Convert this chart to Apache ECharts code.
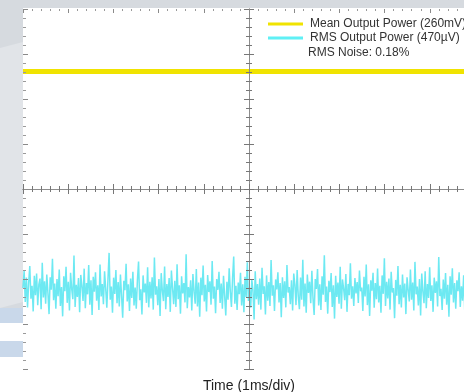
<!DOCTYPE html>
<html>
<head>
<meta charset="utf-8">
<script src="https://cdn.jsdelivr.net/npm/echarts@6/dist/echarts.min.js"></script>
<style>html,body{margin:0;padding:0;background:#fff}#c{width:464px;height:392px}</style>
</head>
<body>
<div id="c"></div>
<script>
// Data (in screen divisions: x 0..10 = 1 ms/div, y -4..4)
const legendNames = ['Mean Output Power (260mV)', 'RMS Output Power (470\u00b5V)'];
const noteText = 'RMS Noise: 0.18%';
const xLabel = 'Time (1ms/div)';
const meanTrace = [2.61, 2.61, 2.61, 2.61, 2.61, 2.61, 2.61, 2.61, 2.61, 2.61, 2.61];
const rmsTrace = [
-2.20,-1.82,-2.51,-1.97,-2.63,-2.08,-1.71,-2.44,-2.15,-2.72,
-1.93,-2.36,-1.88,-2.58,-2.12,-1.99,-2.67,-1.64,-2.41,-2.05,
-2.55,-1.90,-2.31,-2.78,-1.96,-2.24,-1.55,-2.47,-2.10,-2.66,
-2.00,-2.38,-1.79,-2.60,-2.18,-2.83,-1.94,-2.27,-1.73,-2.53,
-2.06,-2.70,-1.86,-2.22,-2.45,-1.48,-2.62,-2.13,-2.40,-1.98,
-2.74,-1.91,-2.16,-2.49,-1.77,-2.65,-2.09,-2.34,-1.69,-2.57,
-2.03,-2.80,-1.95,-2.28,-1.85,-2.48,-2.14,-2.69,-1.68,-2.39,
-2.11,-2.56,-1.83,-2.21,-2.64,-2.01,-1.42,-2.46,-2.17,-2.75,
-1.97,-2.33,-1.80,-2.54,-2.07,-2.61,-1.90,-2.37,-2.86,-2.04,
-2.25,-1.66,-2.50,-2.12,-2.71,-1.99,-2.42,-1.84,-2.59,-2.19,
-2.66,-2.02,-1.61,-2.47,-2.23,-2.79,-1.92,-2.30,-2.10,-2.53,
-1.74,-2.63,-2.06,-2.43,-1.96,-2.68,-1.52,-2.35,-2.16,-2.58,
-2.00,-2.82,-1.87,-2.26,-2.49,-1.72,-2.67,-2.11,-2.40,-1.98,
-2.73,-1.81,-2.20,-2.56,-2.04,-2.62,-1.67,-2.45,-2.14,-2.77,
-1.94,-2.32,-2.09,-2.52,-1.45,-2.65,-2.18,-2.41,-2.03,-2.70,
-1.89,-2.27,-2.55,-1.78,-2.61,-2.08,-2.84,-1.97,-2.36,-1.70,
-2.50,-2.13,-2.72,-1.91,-2.29,-2.05,-2.57,-1.60,-2.44,-2.17,
-2.76,-2.00,-2.24,-1.84,-2.53,-2.10,-2.66,-1.93,-2.38,-2.81,
-2.06,-2.46,-1.76,-2.28,-2.62,-1.98,-1.50,-2.55,-2.15,-2.69,
-2.08,-2.34,-1.86,-2.59,-2.12,-2.74,-1.95,-2.40,-1.63,-2.49,
-2.19,-2.64,-2.02,-2.25,-2.90,-1.83,-2.45,-2.11,-2.57,-1.99,
-2.68,-1.75,-2.33,-2.16,-2.79,-1.92,-2.48,-2.07,-2.60,-1.58,
-2.37,-2.14,-2.71,-2.01,-2.23,-1.85,-2.52,-2.09,-2.85,-1.96,
-2.42,-2.05,-2.63,-1.69,-2.30,-2.18,-2.56,-2.03,-2.70,-1.88,
-2.13,-2.58,-1.80,-2.39,-2.67,-1.97,-2.46,-1.57,-2.61,-2.10,
-2.75,-1.90,-2.31,-2.06,-2.54,-1.82,-2.43,-2.80,-2.00,-2.22,
-1.78,-2.59,-2.12,-2.69,-1.94,-2.35,-1.47,-2.51,-2.17,-2.77,
-2.04,-2.29,-1.87,-2.62,-2.14,-2.88,-1.93,-2.40,-2.08,-2.55,
-1.73,-2.66,-2.01,-2.21,-2.47,-1.89,-2.73,-2.11,-2.36,-1.65,
-2.44,-2.16,-2.60,-1.98,-2.32,-2.07,-2.53,-1.81,-2.27,-2.19,
-2.71,-1.95,-2.39,-1.68,-2.58,-2.12,-2.82,-2.03,-2.26,-1.86,
-2.64,-2.09,-2.45,-1.77,-2.52,-2.15,-2.75,-1.92,-2.33,-1.54,
-2.60,-2.06,-2.43,-1.99,-2.68,-1.84,-2.30,-2.20,-2.87,-2.02,
-2.37,-1.71,-2.56,-2.13,-2.63,-1.90,-2.41,-2.10,-2.78,-1.96,
-2.24,-2.50,-1.79,-2.46,-2.08,-2.70,-1.62,-2.34,-2.17,-2.59,
-2.00,-2.81,-1.88,-2.28,-2.54,-1.83,-2.65,-2.11,-2.42,-1.74,
-2.49,-2.14,-2.73,-1.97,-2.31,-2.05,-2.61,-1.51,-2.38,-2.22,
-2.69,-2.01,-2.44,-1.87,-2.57,-2.13,-2.84,-1.94,-2.35,-1.76,
-2.52,-2.09,-2.66,-2.03,-2.27,-1.85,-2.62,-2.16,-2.48,-1.92,
-2.76,-2.07,-2.39,-1.70,-2.55,-2.18,-2.67,-1.99,-2.32,-2.12
];

const XMAX = 10;
const toXY = arr => arr.map((v, i) => [i * XMAX / (arr.length - 1), v]);

const FONT = 'Liberation Sans, Arial, sans-serif';
const tickCol = '#8a8a8a';
const L = 23, T = 9, W = 452, H = 360;

function edgeX(gi, pos, extra) {
  return Object.assign({
    gridIndex: gi, type: 'value', min: 0, max: XMAX, interval: 1, position: pos,
    axisLine: { show: false },
    axisTick: { show: true, inside: true, length: 5, lineStyle: { color: tickCol, width: 1 } },
    minorTick: { show: true, splitNumber: 5, length: 3, lineStyle: { color: '#9a9a9a', width: 1 } },
    axisLabel: { show: false }, splitLine: { show: false }, z: 5
  }, extra || {});
}
function edgeY(gi, pos, extra) {
  return Object.assign({
    gridIndex: gi, type: 'value', min: -4, max: 4, interval: 1, position: pos,
    axisLine: { show: false },
    axisTick: { show: true, inside: true, length: 5, lineStyle: { color: tickCol, width: 1 } },
    minorTick: { show: true, splitNumber: 5, length: 3, lineStyle: { color: '#9a9a9a', width: 1 } },
    axisLabel: { show: false }, splitLine: { show: false }, z: 5
  }, extra || {});
}
const hidden = (gi, isX) => ({ gridIndex: gi, type: 'value', min: isX ? 0 : -4, max: isX ? XMAX : 4, show: false });
const centerLine = { show: true, onZero: false, lineStyle: { color: '#8c8c8c', width: 1 } };
const centerTick = { show: true, inside: true, length: 5, lineStyle: { color: '#777' } };
const centerMinor = { show: true, splitNumber: 5, length: 3, lineStyle: { color: '#777' } };
const gridBox = (left, top, width, height) => ({ left, top, width, height, containLabel: false, outerBoundsMode: 'none' });

const chart = echarts.init(document.getElementById('c'), null, { renderer: 'canvas' });
chart.setOption({
  backgroundColor: '#ffffff',
  animation: false,
  textStyle: { fontFamily: FONT },
  graphic: [
    { type: 'rect', z: -10, shape: { x: 0, y: 0, width: 464, height: 8 }, style: { fill: '#d6dadf' } },
    { type: 'rect', z: -10, shape: { x: 0, y: 0, width: 23, height: 310 }, style: { fill: '#d6dadf' } },
    { type: 'polygon', z: -9, shape: { points: [[0, 48], [23, 42], [23, 302], [0, 308]] }, style: { fill: '#e1e4e8' } },
    { type: 'rect', z: -9, shape: { x: 0, y: 308, width: 23, height: 15 }, style: { fill: '#c9d8ea' } },
    { type: 'rect', z: -9, shape: { x: 0, y: 341, width: 23, height: 16 }, style: { fill: '#c9d8ea' } },
    { type: 'text', left: 308, top: 47, z: 10,
      style: { text: noteText, font: '12px ' + FONT, fill: '#333333' } }
  ],
  legend: {
    left: 263, top: 13, orient: 'vertical', icon: 'rect', itemWidth: 35, itemHeight: 3, itemGap: 2,
    textStyle: { fontSize: 12, color: '#333333', fontFamily: FONT, lineHeight: 12, padding: [0, 0, 0, 2] },
    data: legendNames
  },
  grid: [
    gridBox(L, T, W, H),
    gridBox(L, T, W, H / 2),
    gridBox(L, T + H / 2, W, H / 2),
    gridBox(L, T, W / 2, H),
    gridBox(L + W / 2, T, W / 2, H)
  ],
  xAxis: [
    edgeX(0, 'bottom', { name: xLabel, nameLocation: 'middle', nameGap: 10,
      nameTextStyle: { fontSize: 14, color: '#222222', fontFamily: FONT } }),
    edgeX(0, 'top', { axisTick: { show: true, inside: true, length: 4, lineStyle: { color: tickCol } },
      minorTick: { show: true, splitNumber: 5, length: 2, lineStyle: { color: '#9a9a9a' } } }),
    edgeX(1, 'bottom', { axisLine: centerLine, axisTick: centerTick, minorTick: centerMinor }),
    edgeX(2, 'top', { axisLine: centerLine, axisTick: centerTick, minorTick: centerMinor }),
    hidden(3, true),
    hidden(4, true)
  ],
  yAxis: [
    edgeY(0, 'left'),
    hidden(1, false),
    hidden(2, false),
    edgeY(3, 'right', { axisLine: centerLine, axisTick: centerTick, minorTick: centerMinor }),
    edgeY(4, 'left', { axisLine: centerLine, axisTick: centerTick, minorTick: centerMinor })
  ],
  series: [
    { name: legendNames[0], type: 'line', xAxisIndex: 0, yAxisIndex: 0, data: toXY(meanTrace),
      showSymbol: false, symbol: 'none', lineStyle: { color: '#f0e300', width: 5 }, itemStyle: { color: '#f0e300' }, z: 2 },
    { name: legendNames[1], type: 'line', xAxisIndex: 0, yAxisIndex: 0, data: toXY(rmsTrace),
      showSymbol: false, symbol: 'none', lineStyle: { color: '#2fdfec', width: 1.5, opacity: 0.7 }, itemStyle: { color: '#5ff0f5' }, z: 2 }
  ]
});
</script>
</body>
</html>
